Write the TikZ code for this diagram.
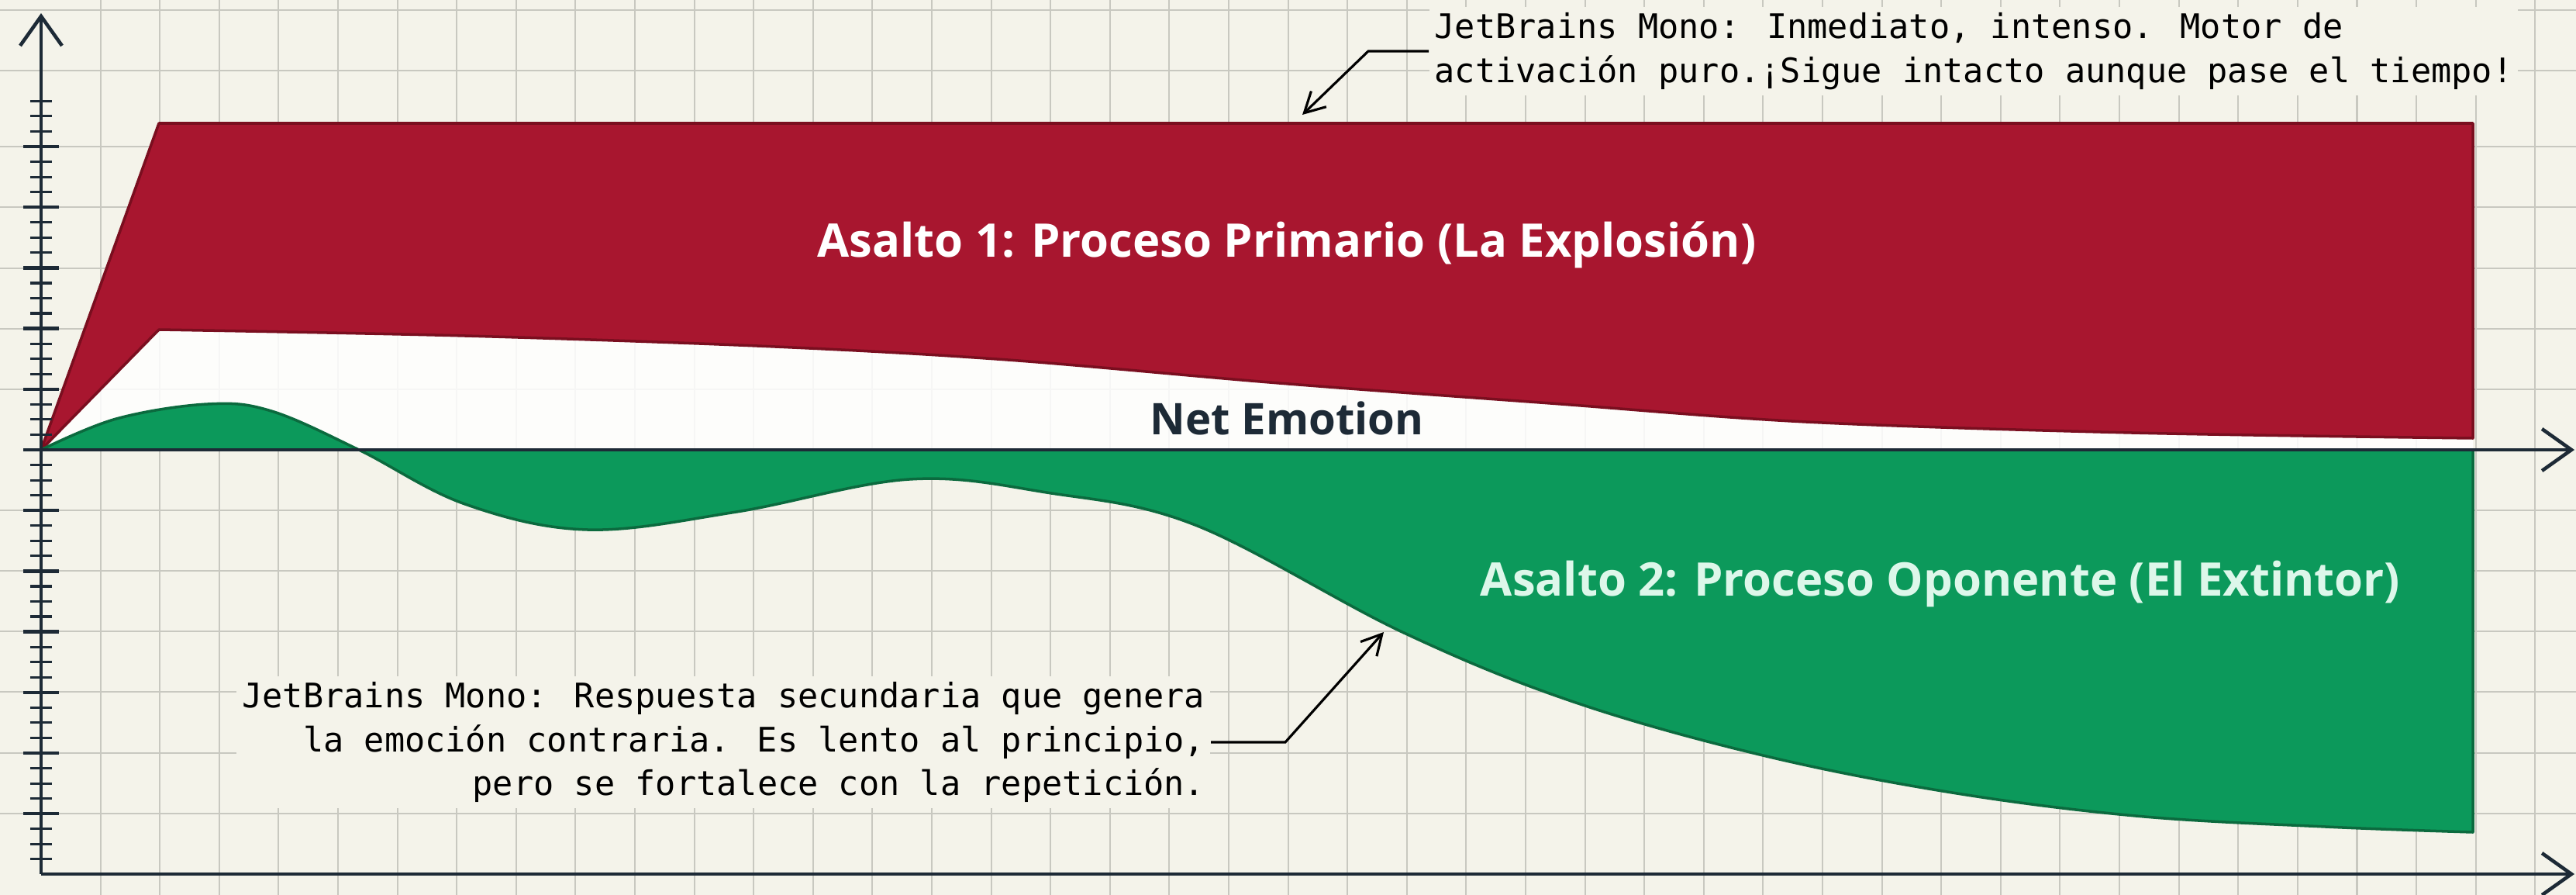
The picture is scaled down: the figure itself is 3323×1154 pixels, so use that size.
\documentclass[tikz,border=0pt]{standalone}
\usepackage{fontspec}
\usetikzlibrary{arrows.meta}
\newfontfamily\notefont{DejaVu Sans Mono}
\newfontfamily\labelfont{Open Sans}
\definecolor{paper}{HTML}{F4F3EA}
\definecolor{gridgray}{HTML}{C8C8C0}
\definecolor{navy}{HTML}{1D2A36}
\definecolor{redfill}{HTML}{A8162F}
\definecolor{redline}{HTML}{7A0E1F}
\definecolor{greenfill}{HTML}{0C995B}
\definecolor{greenline}{HTML}{0B6A3E}
\definecolor{mint}{HTML}{DDF7EA}

\begin{document}
\begin{tikzpicture}[x=0.1mm,y=-0.1mm,
    gridline/.style={gridgray,line width=0.6pt},
    axis/.style={navy,line width=1.3pt,-{Straight Barb[length=3.8mm,width=5.4mm,line width=1.3pt]}},
    tick/.style={navy,line width=1.2pt},
    note/.style={font=\notefont\fontsize{12.4}{16.2}\selectfont,fill=paper,inner sep=2pt},
    pointer/.style={black,line width=0.9pt,-{Straight Barb[length=2.6mm,width=2.8mm]}},
    title/.style={font=\labelfont\bfseries\fontsize{17}{20}\selectfont,anchor=base}]
    \useasboundingbox (0,0) rectangle (3323,1154);
    % Paper and grid
    \fill[paper] (0,0) rectangle (3323,1154);
    \foreach \k in {1,...,42}
        \draw[gridline] ({53+76.6*\k},0) -- ({53+76.6*\k},1154);
    \foreach \y in {13,91,189,267,346,424,502,658,736,814,892,971,1049}
        \draw[gridline] (0,\y) -- (3323,\y);
    % White band under the first process
    \fill[white,opacity=0.85] (53,580) -- (205,159) -- (3190,159) -- (3190,580) -- cycle;
    % Asalto 1 (red)
    \draw[redline,fill=redfill,line width=1pt,line join=round] (53,580) -- (205,159) -- (3190,159) -- (3190,565)
        -- plot[smooth,tension=0.55] coordinates {(3190,565) (2750,558) (2330,544) (2000,520) (1650,494)
        (1300,464) (1000,447) (600,433) (205,425)} -- cycle;
    % Asalto 2 (green)
    \draw[greenline,fill=greenfill,line width=1pt,line join=round]
        plot[smooth,tension=0.6] coordinates {(53,580) (150,540) (268,521) (350,530) (463,580) (600,650)
        (758,683) (950,660) (1173,618) (1350,635) (1542,677) (1809,815) (2027,904) (2270,973)
        (2512,1021) (2755,1052) (3000,1066) (3190,1073)} -- (3190,580) -- cycle;
    % Axes
    \draw[axis] (53,1127) -- (53,17);
    \draw[axis] (53,580) -- (3321,580);
    \draw[axis] (53,1127) -- (3321,1127);
    \foreach \i in {-27,...,23}{
        \pgfmathsetmacro{\ty}{580-19.55*\i}
        \pgfmathtruncatemacro{\major}{mod(abs(\i),4)==0 ? 1 : 0}
        \ifnum\major=1
            \draw[tick,line width=1.3pt] (30,\ty) -- (76,\ty);
        \else
            \draw[tick,line width=0.9pt] (39,\ty) -- (67,\ty);
        \fi
    }
    % Labels
    \node[title,text=white] (primario) at (1660,332) {Asalto 1: Proceso Primario (La Explosión)};
    \node[title,text=mint] (oponente) at (2503,768) {Asalto 2: Proceso Oponente (El Extintor)};
    \node[title,text=navy,font=\labelfont\bfseries\fontsize{16}{20}\selectfont] (net) at (1660,560) {Net Emotion};
    % Notes
    \node[note,anchor=west,align=left] (notaA) at (1843,66)
        {JetBrains Mono: Inmediato, intenso. Motor de\\activación puro.¡Sigue intacto aunque pase el tiempo!};
    \coordinate (a) at (1680,148);
    \draw[pointer] (notaA.west) -- ++(-78,0) -- (a);
    \node[note,anchor=east,align=right] (notaB) at (1562,957)
        {JetBrains Mono: Respuesta secundaria que genera\\la emoción contraria. Es lento al principio,\\pero se fortalece con la repetición.};
    \coordinate (b) at (1785,815);
    \draw[pointer] (notaB.east) -- ++(96,0) -- (b);
\end{tikzpicture}
\end{document}
